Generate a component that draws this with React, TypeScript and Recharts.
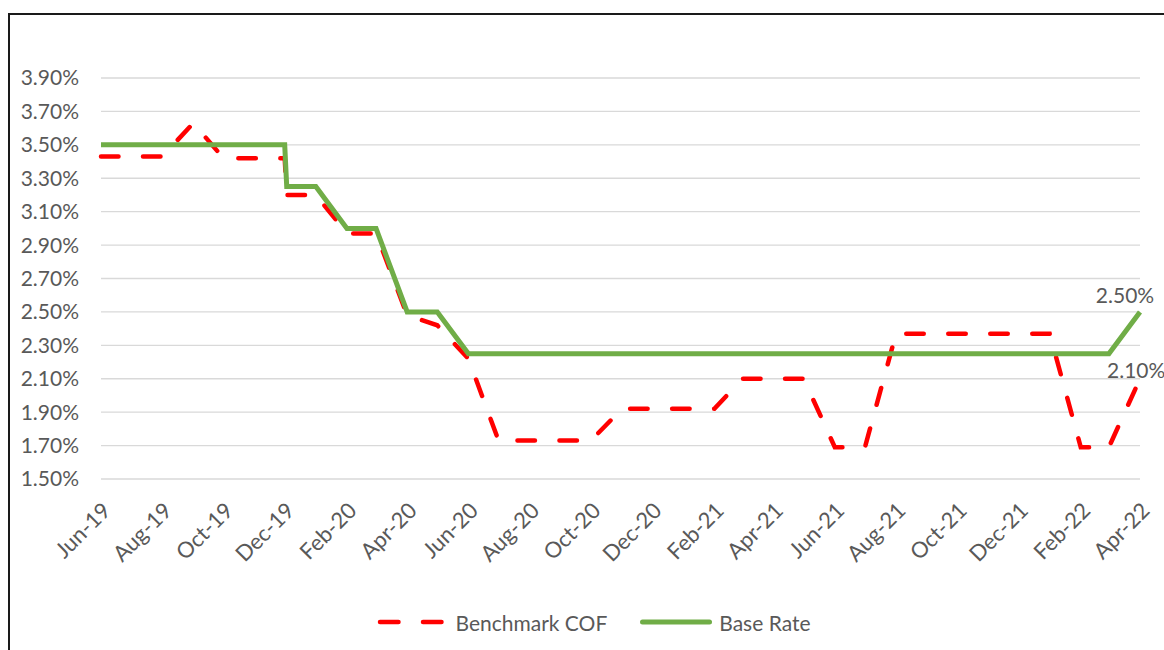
import { LineChart, Line, XAxis, YAxis, CartesianGrid, Legend, LabelList } from "recharts";

// Rate comparison: Benchmark COF vs Base Rate, monthly on a date axis.

const pointDates = [
  "2019-06-01", "2019-07-01", "2019-08-01", "2019-09-01", "2019-10-01", "2019-11-01",
  "2019-12-01", "2019-12-03",
  "2020-01-01", "2020-02-01", "2020-03-01", "2020-04-01", "2020-05-01", "2020-06-01",
  "2020-07-01", "2020-08-01", "2020-09-01", "2020-10-01", "2020-11-01", "2020-12-01",
  "2021-01-01", "2021-02-01", "2021-03-01", "2021-04-01", "2021-05-01", "2021-06-01",
  "2021-07-01", "2021-08-01", "2021-09-01", "2021-10-01", "2021-11-01", "2021-12-01",
  "2022-01-01", "2022-02-01", "2022-03-01", "2022-04-01",
];

const benchmarkCof = [
  3.43, 3.43, 3.43, 3.63, 3.42, 3.42,
  3.42, 3.20,
  3.20, 2.97, 2.97, 2.48, 2.42, 2.22,
  1.73, 1.73, 1.73, 1.73, 1.92, 1.92,
  1.92, 1.92, 2.10, 2.10, 2.10, 1.69,
  1.69, 2.37, 2.37, 2.37, 2.37, 2.37,
  2.37, 1.69, 1.69, 2.10,
];

const baseRate = [
  3.50, 3.50, 3.50, 3.50, 3.50, 3.50,
  3.50, 3.25,
  3.25, 3.00, 3.00, 2.50, 2.50, 2.25,
  2.25, 2.25, 2.25, 2.25, 2.25, 2.25,
  2.25, 2.25, 2.25, 2.25, 2.25, 2.25,
  2.25, 2.25, 2.25, 2.25, 2.25, 2.25,
  2.25, 2.25, 2.25, 2.50,
];

const xTickDates = [
  "2019-06-01", "2019-08-01", "2019-10-01", "2019-12-01", "2020-02-01", "2020-04-01",
  "2020-06-01", "2020-08-01", "2020-10-01", "2020-12-01", "2021-02-01", "2021-04-01",
  "2021-06-01", "2021-08-01", "2021-10-01", "2021-12-01", "2022-02-01", "2022-04-01",
];

const yTicks = [1.5, 1.7, 1.9, 2.1, 2.3, 2.5, 2.7, 2.9, 3.1, 3.3, 3.5, 3.7, 3.9];

const MONTHS = ["Jan", "Feb", "Mar", "Apr", "May", "Jun", "Jul", "Aug", "Sep", "Oct", "Nov", "Dec"];
const DAY_MS = 86400000;
const START = Date.parse(pointDates[0]);
const toDay = (s: string) => Math.round((Date.parse(s) - START) / DAY_MS);
const fmtMonth = (d: number) => {
  const dt = new Date(START + d * DAY_MS);
  return `${MONTHS[dt.getUTCMonth()]}-${String(dt.getUTCFullYear()).slice(2)}`;
};

const data = pointDates.map((s, i) => ({
  day: toDay(s),
  cof: benchmarkCof[i],
  base: baseRate[i],
}));
const xTicks = xTickDates.map(toDay);
const lastIndex = data.length - 1;

const FONT = "Lato, 'Open Sans', sans-serif";
const TEXT = "#595959";
const RED = "#ff0000";
const GREEN = "#70ad47";
const Y_TICK = { fontSize: 21, fill: TEXT, fontFamily: FONT };
const X_TICK = { fontSize: 22, fill: TEXT, fontFamily: FONT };

function endLabel(dx: number, dy: number, anchor: "start" | "middle" | "end") {
  return (props: any) => {
    const { x, y, index, value } = props;
    if (index !== lastIndex) return null;
    return (
      <text x={x + dx} y={y + dy} textAnchor={anchor} fontSize={21} fill={TEXT} fontFamily={FONT}>
        {Number(value).toFixed(2)}%
      </text>
    );
  };
}

function LegendContent() {
  return (
    <div
      style={{
        display: "flex", justifyContent: "center", alignItems: "center",
        height: 28, fontSize: 21, color: TEXT, fontFamily: FONT,
      }}
    >
      <svg width={70} height={10}>
        <line x1={3} x2={67} y1={5} y2={5} stroke={RED} strokeWidth={4.5}
          strokeDasharray="18.5 24.5" strokeLinecap="round" />
      </svg>
      <span style={{ marginLeft: 8, marginRight: 33 }}>Benchmark COF</span>
      <svg width={72} height={10}>
        <line x1={2.5} x2={69.5} y1={5} y2={5} stroke={GREEN} strokeWidth={5} strokeLinecap="round" />
      </svg>
      <span style={{ marginLeft: 7 }}>Base Rate</span>
    </div>
  );
}

export default function App() {
  return (
    <div
      style={{
        position: "fixed", left: 8, top: 13, width: 1172, height: 660,
        borderLeft: "2px solid #1a1a1a", borderTop: "2px solid #1a1a1a", background: "#fff",
      }}
    >
      <LineChart width={1170} height={635} data={data} margin={{ top: 63, right: 40, left: 0, bottom: 0 }}>
        <CartesianGrid vertical={false} stroke="#d9d9d9" strokeWidth={1.3} />
        <XAxis
          dataKey="day" type="number" domain={[0, toDay(pointDates[lastIndex])]} ticks={xTicks}
          tickFormatter={fmtMonth} interval={0} angle={-45} textAnchor="end"
          axisLine={false} tickLine={false} tickSize={0} tickMargin={22}
          height={143} tick={X_TICK}
        />
        <YAxis
          domain={[1.5, 3.9]} ticks={yTicks} tickFormatter={(v: number) => `${v.toFixed(2)}%`}
          axisLine={false} tickLine={false} tickSize={0} tickMargin={22}
          width={91} tick={Y_TICK}
        />
        <Legend verticalAlign="bottom" content={<LegendContent />}
          wrapperStyle={{ left: 0, width: 1168, bottom: 14 }} />
        <Line
          dataKey="cof" name="Benchmark COF" type="linear" stroke={RED} strokeWidth={4.5}
          strokeDasharray="17.5 24.5" strokeLinecap="round" dot={false} activeDot={false}
          isAnimationActive={false}
        >
          <LabelList dataKey="cof" content={endLabel(-33, -1, "start")} />
        </Line>
        <Line
          dataKey="base" name="Base Rate" type="linear" stroke={GREEN} strokeWidth={5}
          dot={false} activeDot={false} isAnimationActive={false}
        >
          <LabelList dataKey="base" content={endLabel(-15, -9, "middle")} />
        </Line>
      </LineChart>
    </div>
  );
}
